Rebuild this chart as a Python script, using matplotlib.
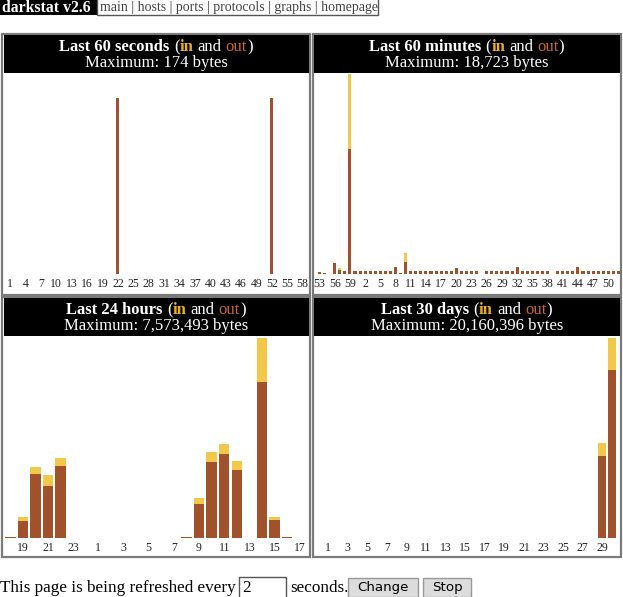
import matplotlib
matplotlib.use("Agg")
import matplotlib.pyplot as plt
from matplotlib.patches import Rectangle
from matplotlib.offsetbox import TextArea, HPacker, AnnotationBbox

W, H = 623, 597
SERIF = "Liberation Serif"
OUT_C = "#a0522d"
IN_C = "#f2c84b"
IN_TXT = "#e8b020"
OUT_TXT = "#c8643c"

# ---- data (bytes) ----
sec_labels = list(range(1, 60)) + [0]
sec_out = [0, 0, 0, 0, 0, 0, 0, 0, 0, 0, 0, 0, 0, 0, 0, 0, 0, 0, 0, 0,
           0, 153, 0, 0, 0, 0, 0, 0, 0, 0, 0, 0, 0, 0, 0, 0, 0, 0, 0, 0,
           0, 0, 0, 0, 0, 0, 0, 0, 0, 0, 0, 153, 0, 0, 0, 0, 0, 0, 0, 0]
sec_in = [0] * 60
sec_max = 174

min_labels = list(range(53, 60)) + list(range(0, 53))
min_out = [190, 90, 20, 1000, 380, 280, 11700, 240, 240, 240,
           240, 240, 240, 240, 240, 700, 90, 1130, 240, 240,
           240, 240, 240, 240, 240, 240, 240, 560, 240, 240,
           240, 240, 40, 240, 240, 240, 240, 240, 240, 650,
           240, 240, 240, 240, 240, 240, 40, 240, 240, 240,
           240, 650, 240, 240, 240, 240, 240, 240, 240, 240]
min_in = [0, 0, 0, 0, 190, 0, 7023, 0, 0, 0,
          0, 0, 0, 0, 0, 0, 0, 880, 0, 0,
          0, 0, 0, 0, 0, 0, 0, 0, 0, 0,
          0, 0, 0, 0, 0, 0, 0, 0, 0, 0,
          0, 0, 0, 0, 0, 0, 0, 0, 0, 0,
          0, 0, 0, 0, 0, 0, 0, 0, 0, 0]
min_max = 18723

hour_labels = list(range(18, 24)) + list(range(0, 18))
hour_out = [25000, 620000, 2400000, 1960000, 2710000, 0, 0, 0, 0, 0, 0, 0,
            0, 0, 25000, 1260000, 2880000, 3160000, 2560000, 0, 5920000, 658000,
            25000, 0]
hour_in = [0, 164000, 289000, 407000, 293000, 0, 0, 0, 0, 0, 0, 0,
           0, 0, 0, 228000, 358000, 392000, 354000, 0, 1653493, 103000,
           0, 0]
hour_max = 7573493

day_labels = list(range(1, 31))
day_out = [0] * 28 + [8270000, 16950000]
day_in = [0] * 28 + [1320000, 3210396]
day_max = 20160396


def fx(x):
    return x / W


def fy(y):
    return 1 - y / H


def add_rect(fig, x0, y0, x1, y1, **kw):
    fig.patches.append(Rectangle((fx(x0), fy(y1)), (x1 - x0) / W, (y1 - y0) / H,
                                 transform=fig.transFigure, figure=fig, zorder=-1, **kw))


def header(fig, box, title, maximum):
    """ Black header with the coloured (in and out) line """
    x0, y0, x1, y1 = box
    add_rect(fig, x0, y0, x1, y1, facecolor="black", edgecolor="none")
    fs = 12
    wp = dict(color="white", fontsize=fs, family=SERIF)
    bold = dict(wp, fontweight="bold")
    parts = [TextArea(title, textprops=bold),
             HPacker(children=[TextArea("(", textprops=wp),
                               TextArea("in", textprops=dict(bold, color=IN_TXT))],
                     pad=0, sep=0, align="baseline"),
             TextArea("and", textprops=wp),
             HPacker(children=[TextArea("out", textprops=dict(wp, color=OUT_TXT)),
                               TextArea(")", textprops=wp)],
                     pad=0, sep=0, align="baseline")]
    line = HPacker(children=parts, pad=0, sep=3, align="baseline")
    xc = (x0 + x1) / 2
    ab = AnnotationBbox(line, (fx(xc), fy(y0 + 12)), xycoords="figure fraction",
                        frameon=False, box_alignment=(0.5, 0.5))
    fig.add_artist(ab)
    fig.text(fx(xc), fy(y0 + 28), "Maximum: " + maximum, color="white",
             fontsize=fs, family=SERIF, ha="center", va="center")


def chart(fig, rect, labels, out, inn, ymax, width, first, step, xlim):
    x0, y0, x1, y1 = rect
    ax = fig.add_axes([fx(x0), fy(y1), (x1 - x0) / W, (y1 - y0) / H], zorder=2)
    xs = list(range(len(labels)))
    ax.bar(xs, out, width=width, color=OUT_C, linewidth=0)
    ax.bar(xs, inn, width=width, bottom=out, color=IN_C, linewidth=0)
    ax.set_xlim(*xlim)
    ax.set_ylim(0, ymax)
    ax.set_yticks([])
    ax.set_xticks(xs[first::step], [str(l) for l in labels[first::step]])
    ax.tick_params(axis="x", length=0, pad=3, labelsize=8.5)
    for t in ax.get_xticklabels():
        t.set_family(SERIF)
        t.set_color("#222222")
    for s in ax.spines.values():
        s.set_visible(False)
    ax.patch.set_alpha(0)
    return ax


fig = plt.figure(figsize=(W / 100, H / 100), dpi=100)
fig.patch.set_facecolor("white")

# panel frames
panels = [(2.5, 34, 309.5, 294.5), (313, 34, 620.5, 294.5),
          (2.5, 297, 309.5, 557), (313, 297, 620.5, 557)]
for p in panels:
    add_rect(fig, *p, facecolor="white", edgecolor="#7a7a7a", linewidth=1.6)

header(fig, (3.5, 35, 308.5, 73), "Last 60 seconds", "174 bytes")
header(fig, (314, 35, 619.5, 73), "Last 60 minutes", "18,723 bytes")
header(fig, (3.5, 298, 308.5, 336), "Last 24 hours", "7,573,493 bytes")
header(fig, (314, 298, 619.5, 336), "Last 30 days", "20,160,396 bytes")

chart(fig, (5, 74, 313, 274), sec_labels, sec_out, sec_in, sec_max, 0.6, 0, 3, (-1, 59))
chart(fig, (317, 74, 621, 274), min_labels, min_out, min_in, min_max, 0.6, 0, 3, (-0.5, 59.5))
chart(fig, (4, 338, 306, 537.5), hour_labels, hour_out, hour_in, hour_max, 0.84, 1, 2, (-0.5, 23.5))
chart(fig, (323, 338, 617, 537.5), day_labels, day_out, day_in, day_max, 0.8, 0, 2, (-0.5, 29.5))

# top navigation bar
add_rect(fig, 0, -2, 97, 15, facecolor="black", edgecolor="none")
fig.text(fx(2), fy(7.5), "darkstat v2.6", color="white", fontsize=11.3,
         fontweight="bold", family=SERIF, va="center")
add_rect(fig, 97, -2, 378, 15, facecolor="white", edgecolor="#555555", linewidth=1)
fig.text(fx(100), fy(7), "main | hosts | ports | protocols | graphs | homepage",
         color="#444444", fontsize=10, family=SERIF, va="center")

# refresh form at the bottom
fig.text(fx(0), fy(588), "This page is being refreshed every", color="black",
         fontsize=12.3, family=SERIF, va="center")
add_rect(fig, 239, 577, 286, 600, facecolor="white", edgecolor="#555555", linewidth=1)
fig.text(fx(242), fy(588), "2", color="black", fontsize=12.3, family=SERIF, va="center")
fig.text(fx(290), fy(588), "seconds.", color="black", fontsize=12.3, family=SERIF, va="center")
add_rect(fig, 348, 578, 418, 597, facecolor="#dcdcdc", edgecolor="#999999", linewidth=1)
fig.text(fx(383), fy(588), "Change", color="black", fontsize=9.6, ha="center", va="center")
add_rect(fig, 423, 578, 471, 597, facecolor="#dcdcdc", edgecolor="#999999", linewidth=1)
fig.text(fx(447), fy(588), "Stop", color="black", fontsize=9.6, ha="center", va="center")

fig.savefig("out.png", dpi=100)
